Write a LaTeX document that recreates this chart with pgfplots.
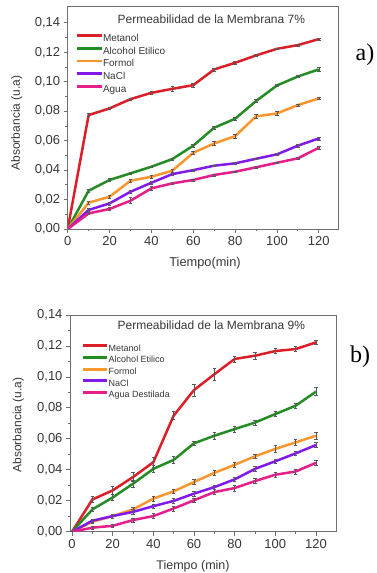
\documentclass[border=0pt]{standalone}
\usepackage{pgfplots}
\pgfplotsset{compat=1.18}
\usepackage{pgfplotstable}
\usepackage{fontspec}
\setmainfont{Liberation Sans}
\newfontfamily\seriffont{Liberation Serif}

\definecolor{cMet}{RGB}{220,30,40}
\definecolor{cAlc}{RGB}{35,140,35}
\definecolor{cFor}{RGB}{250,150,45}
\definecolor{cNa}{RGB}{130,25,235}
\definecolor{cAg}{RGB}{230,30,140}
\definecolor{axgray}{RGB}{110,110,110}
\definecolor{txt}{RGB}{55,55,55}

\pgfplotstableread{
t m me a ae f fe n ne w we
0 0 0 0 0 0 0 0 0 0 0
10 0.0774 0.0010 0.0260 0.0012 0.0179 0.0012 0.0129 0.0010 0.0106 0.0008
20 0.0819 0.0008 0.0333 0.0010 0.0219 0.0012 0.0174 0.0010 0.0136 0.0012
30 0.0882 0.0006 0.0378 0.0006 0.0328 0.0008 0.0253 0.0010 0.0192 0.0020
40 0.0925 0.0008 0.0423 0.0006 0.0355 0.0010 0.0314 0.0012 0.0276 0.0015
50 0.0952 0.0015 0.0475 0.0008 0.0396 0.0012 0.0373 0.0010 0.0310 0.0008
60 0.0977 0.0012 0.0566 0.0008 0.0518 0.0012 0.0400 0.0006 0.0333 0.0006
70 0.1084 0.0010 0.0688 0.0010 0.0581 0.0015 0.0430 0.0006 0.0367 0.0006
80 0.1129 0.0010 0.0749 0.0008 0.0631 0.0012 0.0446 0.0006 0.0389 0.0006
90 0.1179 0.0006 0.0869 0.0010 0.0765 0.0015 0.0477 0.0006 0.0419 0.0006
100 0.1224 0.0006 0.0975 0.0008 0.0785 0.0012 0.0507 0.0006 0.0450 0.0006
110 0.1249 0.0006 0.1036 0.0008 0.0842 0.0008 0.0566 0.0010 0.0480 0.0008
120 0.1290 0.0006 0.1084 0.0012 0.0887 0.0008 0.0615 0.0010 0.0552 0.0010
}\tabA

\pgfplotstableread{
t m me a ae f fe n ne w we
0 0 0 0 0 0 0 0 0 0 0
10 0.0208 0.0020 0.0144 0.0015 0.0064 0.0010 0.0071 0.0010 0.0026 0.0012
20 0.0267 0.0025 0.0221 0.0020 0.0101 0.0012 0.0101 0.0012 0.0038 0.0010
30 0.0353 0.0030 0.0310 0.0020 0.0144 0.0015 0.0128 0.0015 0.0075 0.0012
40 0.0449 0.0030 0.0406 0.0020 0.0214 0.0015 0.0165 0.0015 0.0101 0.0015
50 0.0750 0.0025 0.0464 0.0020 0.0261 0.0015 0.0199 0.0015 0.0150 0.0015
60 0.0915 0.0040 0.0571 0.0015 0.0321 0.0015 0.0246 0.0015 0.0203 0.0015
70 0.1017 0.0040 0.0620 0.0025 0.0380 0.0015 0.0288 0.0015 0.0256 0.0015
80 0.1116 0.0020 0.0663 0.0020 0.0432 0.0015 0.0338 0.0015 0.0282 0.0020
90 0.1137 0.0025 0.0705 0.0015 0.0487 0.0015 0.0406 0.0015 0.0327 0.0015
100 0.1167 0.0015 0.0760 0.0015 0.0535 0.0025 0.0455 0.0015 0.0368 0.0015
110 0.1180 0.0015 0.0814 0.0015 0.0577 0.0020 0.0506 0.0015 0.0389 0.0015
120 0.1223 0.0015 0.0905 0.0025 0.0620 0.0020 0.0560 0.0015 0.0445 0.0015
}\tabB

\pgfplotsset{
  panel/.style={
    scale only axis,
    axis line style={axgray, line width=0.9pt},
    tick style={axgray, line width=0.8pt},
    tick align=outside,
    tick pos=left,
    major tick length=4pt,
    minor tick length=2.5pt,
    minor x tick num=1,
    minor y tick num=1,
    xtick={0,20,40,60,80,100,120},
    ytick={0,0.02,0.04,0.06,0.08,0.10,0.12,0.14},
    scaled y ticks=false,
    /pgf/number format/assume math mode=true,
    yticklabel style={/pgf/number format/.cd, fixed, fixed zerofill, precision=2, use comma},
    tick label style={font=\fontsize{13}{15}\selectfont, text=txt},
    every axis plot/.append style={line width=2.5pt, line join=round, no markers},
    legend cell align=left,
  },
  eb/.style={error bars/.cd, y dir=both, y explicit,
    error bar style={line width=0.6pt, black!65},
    error mark options={rotate=90, mark size=1.8pt, line width=0.6pt, black!65}},
}

\begin{document}
\begin{tikzpicture}
\path[use as bounding box] (0,0) rectangle (376pt,573pt);

% Panel a
\begin{axis}[panel,
  at={(67.7pt,344pt)}, anchor=south west,
  width=271pt, height=222.3pt,
  xmin=0, xmax=129.5, ymin=0, ymax=0.151,
  legend image code/.code={\draw[#1, line width=2.8pt] (0pt,3.3pt) -- (25pt,3.3pt);},
  legend style={draw=none, fill=none, inner sep=0pt, at={(0.027,0.878)}, anchor=north west,
    font=\fontsize{10}{12}\selectfont, text=txt,
    nodes={inner sep=0pt, text height=7.2pt, text depth=2pt}, row sep=3.5pt, column sep=0pt},
]
\addplot[cMet, eb] table[x=t, y=m, y error=me] {\tabA};
\addplot[cAlc, eb] table[x=t, y=a, y error=ae] {\tabA};
\addplot[cFor, eb] table[x=t, y=f, y error=fe] {\tabA};
\addplot[cNa, eb] table[x=t, y=n, y error=ne] {\tabA};
\addplot[cAg, eb] table[x=t, y=w, y error=we] {\tabA};
\legend{Metanol, Alcohol Etilico, Formol, NaCl, Agua}
\end{axis}

% Panel b
\begin{axis}[panel,
  at={(70pt,41.3pt)}, anchor=south west,
  width=266.7pt, height=216.7pt,
  xmin=-1, xmax=130.2, ymin=0, ymax=0.14,
  legend image code/.code={\draw[#1, line width=2.8pt] (0pt,3pt) -- (24pt,3pt);},
  legend style={draw=none, fill=none, inner sep=0pt, at={(0.044,0.865)}, anchor=north west,
    font=\fontsize{9}{11}\selectfont, text=txt,
    nodes={inner sep=0pt, text height=6.5pt, text depth=1.8pt}, row sep=3.1pt, column sep=0pt},
]
\addplot[cMet, eb] table[x=t, y=m, y error=me] {\tabB};
\addplot[cAlc, eb] table[x=t, y=a, y error=ae] {\tabB};
\addplot[cFor, eb] table[x=t, y=f, y error=fe] {\tabB};
\addplot[cNa, eb] table[x=t, y=n, y error=ne] {\tabB};
\addplot[cAg, eb] table[x=t, y=w, y error=we] {\tabB};
\legend{Metanol, Alcohol Etilico, Formol, NaCl, Agua Destilada}
\end{axis}

% titles and labels
\node[font=\fontsize{12}{14}\selectfont, text=txt] at (211.3pt,554pt) {Permeabilidad de la Membrana 7\%};
\node[font=\fontsize{12}{14}\selectfont, text=txt] at (211.3pt,247.3pt) {Permeabilidad de la Membrana 9\%};
\node[rotate=90, font=\fontsize{12}{14}\selectfont, text=txt] at (16.7pt,450pt) {Absorbancia (u.a)};
\node[rotate=90, font=\fontsize{12}{14}\selectfont, text=txt] at (18.3pt,148pt) {Absorbancia (u.a)};
\node[font=\fontsize{12.8}{15}\selectfont, text=txt] at (205pt,310pt) {Tiempo(min)};
\node[font=\fontsize{12.5}{15}\selectfont, text=txt] at (193pt,7pt) {Tiempo (min)};
\node[font=\seriffont\fontsize{24}{28}\selectfont] at (365pt,518pt) {a)};
\node[font=\seriffont\fontsize{24}{28}\selectfont] at (360pt,216pt) {b)};
\end{tikzpicture}
\end{document}
